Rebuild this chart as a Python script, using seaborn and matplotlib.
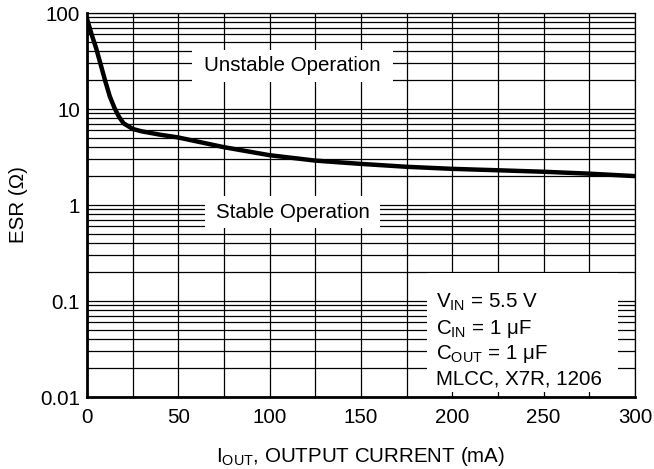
import numpy as np
import pandas as pd
import seaborn as sns
import matplotlib.pyplot as plt
from matplotlib.patches import Rectangle
from matplotlib.ticker import LogLocator, FixedLocator, NullFormatter

# ESR stability boundary
i_out = [0, 2.5, 5, 7.5, 10, 12.5, 15, 17.5, 20, 25, 30, 40, 50, 75, 100, 125, 150, 175, 200, 225, 250, 275, 300]
esr = [87, 60, 43, 29, 19.5, 13.5, 10.3, 8.3, 7.1, 6.2, 5.85, 5.4, 5.05, 4.0, 3.3, 2.9, 2.68, 2.5, 2.38, 2.3, 2.22, 2.12, 2.0]

x_ticks = [0, 50, 100, 150, 200, 250, 300]
y_ticks = [0.01, 0.1, 1, 10, 100]
y_labels = ["0.01", "0.1", "1", "10", "100"]

sns.set_style("white")
plt.rcParams['font.family'] = ['Liberation Sans', 'DejaVu Sans']
plt.rcParams['mathtext.fontset'] = 'custom'
plt.rcParams['mathtext.rm'] = 'Liberation Sans'
plt.rcParams['mathtext.it'] = 'Liberation Sans'
for k in ['text.color', 'axes.labelcolor', 'xtick.color', 'ytick.color']:
    plt.rcParams[k] = 'black'

fs = 14.8
fig, ax = plt.subplots(figsize=(6.54, 4.69), dpi=100)
fig.subplots_adjust(left=87 / 654, right=635 / 654, top=1 - 13 / 469, bottom=1 - 397 / 469)

df = pd.DataFrame({"I": i_out, "ESR": esr})
sns.lineplot(data=df, x="I", y="ESR", ax=ax, color="black", lw=3.2, zorder=5)

ax.set_yscale("log")
ax.set_xlim(0, 300)
ax.set_ylim(0.01, 100)
ax.set_xticks(x_ticks)
ax.set_yticks(y_ticks)
ax.set_yticklabels(y_labels)
ax.xaxis.set_minor_locator(FixedLocator(np.arange(0, 301, 25)))
ax.yaxis.set_minor_locator(LogLocator(base=10, subs=np.arange(2, 10), numticks=20))
ax.yaxis.set_minor_formatter(NullFormatter())
ax.grid(True, which="both", color="black", lw=0.9)
ax.tick_params(axis="both", which="both", length=0, labelsize=fs)
ax.tick_params(axis="x", pad=8)
ax.tick_params(axis="y", pad=5)

for s in ["left", "bottom"]:
    ax.spines[s].set_linewidth(2)
for s in ["top", "right"]:
    ax.spines[s].set_linewidth(0.9)
for s in ax.spines.values():
    s.set_color("black")
    s.set_zorder(7)

ax.set_xlabel(r"I$_{\mathrm{OUT}}$, OUTPUT CURRENT (mA)", fontsize=fs)
ax.set_ylabel("ESR (Ω)", fontsize=fs)
ax.xaxis.set_label_coords(0.5, -0.125)
ax.yaxis.set_label_coords(-0.108, 0.5)

# white label boxes hiding the grid (axes fractions)
for x0, x1, y0, y1 in [(0.1916, 0.558, 0.820, 0.904),
                       (0.215, 0.535, 0.440, 0.523),
                       (0.620, 0.969, 0.013, 0.323)]:
    ax.add_patch(Rectangle((x0, y0), x1 - x0, y1 - y0, transform=ax.transAxes,
                           facecolor="white", edgecolor="none", zorder=4))

ax.text(0.3748, 0.862, "Unstable Operation", fontsize=fs, ha="center", va="center",
        transform=ax.transAxes, zorder=6)
ax.text(0.375, 0.4815, "Stable Operation", fontsize=fs, ha="center", va="center",
        transform=ax.transAxes, zorder=6)

cond = ["V$_{\\mathrm{IN}}$ = 5.5 V", "C$_{\\mathrm{IN}}$ = 1 μF",
        "C$_{\\mathrm{OUT}}$ = 1 μF", "MLCC, X7R, 1206"]
for i, line in enumerate(cond):
    ax.text(0.637, (397 - (300 + 25.7 * i)) / 384, line, fontsize=fs, ha="left",
            va="center_baseline", transform=ax.transAxes, zorder=6)

fig.savefig("out.png", dpi=100)
